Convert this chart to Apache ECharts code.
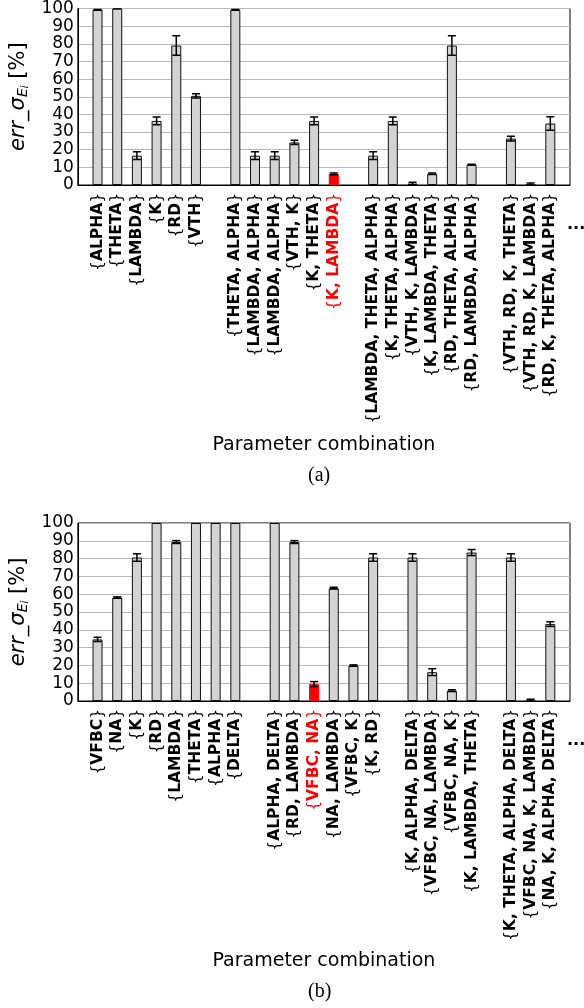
<!DOCTYPE html>
<html>
<head>
<meta charset="utf-8">
<script src="https://cdn.jsdelivr.net/npm/echarts@6/dist/echarts.min.js"></script>
<style>
  html, body { margin: 0; padding: 0; background: #fff; }
  #chart { width: 584px; height: 1008px; }
</style>
</head>
<body>
<div id="chart"></div>
<script>
// ---- Panel (a) ----
const aNames = [
  'ALPHA', 'THETA', 'LAMBDA', 'K', 'RD', 'VTH',
  'THETA, ALPHA', 'LAMBDA, ALPHA', 'LAMBDA, ALPHA', 'VTH, K', 'K, THETA', 'K, LAMBDA',
  'LAMBDA, THETA, ALPHA', 'K, THETA, ALPHA', 'VTH, K, LAMBDA', 'K, LAMBDA, THETA', 'RD, THETA, ALPHA', 'RD, LAMBDA, ALPHA',
  'VTH, RD, K, THETA', 'VTH, RD, K, LAMBDA', 'RD, K, THETA, ALPHA'
];
const aGroupSizes = [6, 6, 6, 3];
const aValues = [99.3, 100, 16.6, 36.3, 79, 50.5,
                 99.3, 16.6, 16.6, 24.1, 36.3, 6.3,
                 16.6, 36.3, 0.8, 6.4, 79, 11.5,
                 26.3, 0.3, 34.8];
const aErrors = [0.3, 0, 2.2, 2.2, 5.5, 1.2,
                 0.3, 2.2, 2.2, 1.2, 2.2, 0.5,
                 2.2, 2.2, 0.8, 0.4, 5.5, 0.2,
                 1.3, 0.9, 3.8];
const aHighlight = 'K, LAMBDA';

// ---- Panel (b) ----
const bNames = [
  'VFBC', 'NA', 'K', 'RD', 'LAMBDA', 'THETA', 'ALPHA', 'DELTA',
  'ALPHA, DELTA', 'RD, LAMBDA', 'VFBC, NA', 'NA, LAMBDA', 'VFBC, K', 'K, RD',
  'K, ALPHA, DELTA', 'VFBC, NA, LAMBDA', 'VFBC, NA, K', 'K, LAMBDA, THETA',
  'K, THETA, ALPHA, DELTA', 'VFBC, NA, K, LAMBDA', 'NA, K, ALPHA, DELTA'
];
const bGroupSizes = [8, 6, 4, 3];
const bValues = [34.6, 58.1, 80.6, 100, 89.3, 100, 100, 100,
                 100, 89.3, 9.5, 63.4, 19.9, 80.6,
                 80.6, 16.2, 5.8, 83.4,
                 80.6, 0.2, 43.2];
const bErrors = [1.2, 0.4, 2.1, 0, 0.8, 0, 0, 0,
                 0, 0.8, 1.4, 0.5, 0.4, 2.1,
                 2.1, 1.9, 0.5, 1.7,
                 2.1, 0.8, 1.3];
const bHighlight = 'VFBC, NA';

const yTicks = { min: 0, max: 100, interval: 10 };
const xTitle = 'Parameter combination';
const panelTags = ['(a)', '(b)'];

const FONT = 'DejaVu Sans';
const SPACER = '\u0000gap';

// Build the category list with an empty slot before, between and after the groups.
function buildPanel(names, sizes, values, errors) {
  const cats = [], bars = [], errs = [];
  let k = 0, g = 0;
  const pushGap = () => { cats.push(SPACER + (g++)); bars.push(null); };
  pushGap();
  sizes.forEach(n => {
    for (let i = 0; i < n; i++, k++) {
      cats.push(names[k]);
      bars.push(values[k]);
      errs.push([cats.length - 1, values[k], errors[k]]);
    }
    pushGap();
  });
  return { cats, bars, errs };
}

const panels = [
  Object.assign(buildPanel(aNames, aGroupSizes, aValues, aErrors), { hl: aHighlight }),
  Object.assign(buildPanel(bNames, bGroupSizes, bValues, bErrors), { hl: bHighlight })
];

const grids = [
  { left: 72, top: 8, width: 498, height: 177 },
  { left: 72, top: 523, width: 498, height: 178 }
];

const yName = '{it|err}{n|_}{it|σ}{s|E}{ss|i}{n| [%]}';
const yNameRich = {
  it: { fontFamily: FONT, fontStyle: 'italic', fontSize: 21, lineHeight: 24, color: '#000' },
  n:  { fontFamily: FONT, fontSize: 21, lineHeight: 24, color: '#000' },
  s:  { fontFamily: FONT, fontStyle: 'italic', fontSize: 14, lineHeight: 10, verticalAlign: 'bottom', color: '#000' },
  ss: { fontFamily: FONT, fontStyle: 'italic', fontSize: 10, lineHeight: 4, verticalAlign: 'bottom', color: '#000' }
};

const option = {
  backgroundColor: '#fff',
  animation: false,
  grid: grids.map(g => Object.assign({ show: true, borderColor: '#000', borderWidth: 1, backgroundColor: 'transparent' }, g)),
  xAxis: panels.map((p, i) => ({
    type: 'category',
    gridIndex: i,
    data: p.cats,
    boundaryGap: false,
    axisLine: { show: true, lineStyle: { color: '#000', width: 1 } },
    axisTick: { show: false },
    splitLine: { show: false },
    axisLabel: {
      interval: 0,
      rotate: 90,
      margin: 8,
      fontFamily: FONT,
      fontSize: 15.5,
      color: (v) => (v === p.hl ? '#ff0000' : '#000'),
      formatter: (v) => (v.startsWith(SPACER) ? '' : '{' + '{bd|' + v + '}' + '}'),
      rich: { bd: { fontFamily: FONT, fontSize: 15.5, fontWeight: 'bold' } }
    },
    name: xTitle,
    nameLocation: 'middle',
    nameGap: 251,
    nameTextStyle: { fontFamily: FONT, fontSize: 19, color: '#000' }
  })),
  yAxis: panels.map((p, i) => ({
    type: 'value',
    gridIndex: i,
    min: yTicks.min,
    max: yTicks.max,
    interval: yTicks.interval,
    axisLine: { show: true, lineStyle: { color: '#000', width: 1 } },
    axisTick: { show: false },
    splitLine: { show: true, lineStyle: { color: '#b8b8b8', width: 1.2 } },
    axisLabel: { fontFamily: FONT, fontSize: 17, color: '#000', margin: 4 },
    name: yName,
    nameLocation: 'middle',
    nameRotate: 90,
    nameGap: 42,
    nameTextStyle: { rich: yNameRich }
  })),
  series: [],
  graphic: []
};

panels.forEach((p, i) => {
  option.series.push({
    type: 'bar',
    xAxisIndex: i,
    yAxisIndex: i,
    barWidth: 10,
    data: p.bars.map((v, j) => {
      if (v === null) return null;
      if (p.cats[j] === p.hl) {
        return { value: v, itemStyle: { color: '#ff0000', borderColor: '#ff0000' } };
      }
      return v;
    }),
    itemStyle: { color: '#d3d3d3', borderColor: '#111', borderWidth: 1 },
    z: 2
  });
  option.series.push({
    type: 'custom',
    xAxisIndex: i,
    yAxisIndex: i,
    data: p.errs,
    encode: { x: 0, y: 1 },
    clip: true,
    z: 3,
    renderItem: (params, api) => {
      const x = api.value(0), v = api.value(1), e = api.value(2);
      const hi = api.coord([x, v + e]);
      const lo = api.coord([x, v - e]);
      const hw = 4;
      const st = { stroke: '#000', lineWidth: 1.5 };
      return {
        type: 'group',
        children: [
          { type: 'line', shape: { x1: hi[0], y1: hi[1], x2: lo[0], y2: lo[1] }, style: st },
          { type: 'line', shape: { x1: hi[0] - hw, y1: hi[1], x2: hi[0] + hw, y2: hi[1] }, style: st },
          { type: 'line', shape: { x1: lo[0] - hw, y1: lo[1], x2: lo[0] + hw, y2: lo[1] }, style: st }
        ]
      };
    }
  });
});

// Panel tags and the trailing ellipsis after the last group
const tagY = [478, 994];
const dotsY = [229, 745];
panelTags.forEach((t, i) => {
  option.graphic.push({
    type: 'text', left: 308, top: tagY[i] - 12,
    style: { text: t, font: '20px "Liberation Serif"', fill: '#000' }
  });
  option.graphic.push({
    type: 'text', left: 567, top: dotsY[i] - 12,
    style: { text: '...', font: 'bold 16px "DejaVu Sans"', fill: '#000' }
  });
});

const chart = echarts.init(document.getElementById('chart'), null, { renderer: 'canvas' });
chart.setOption(option);
</script>
</body>
</html>
